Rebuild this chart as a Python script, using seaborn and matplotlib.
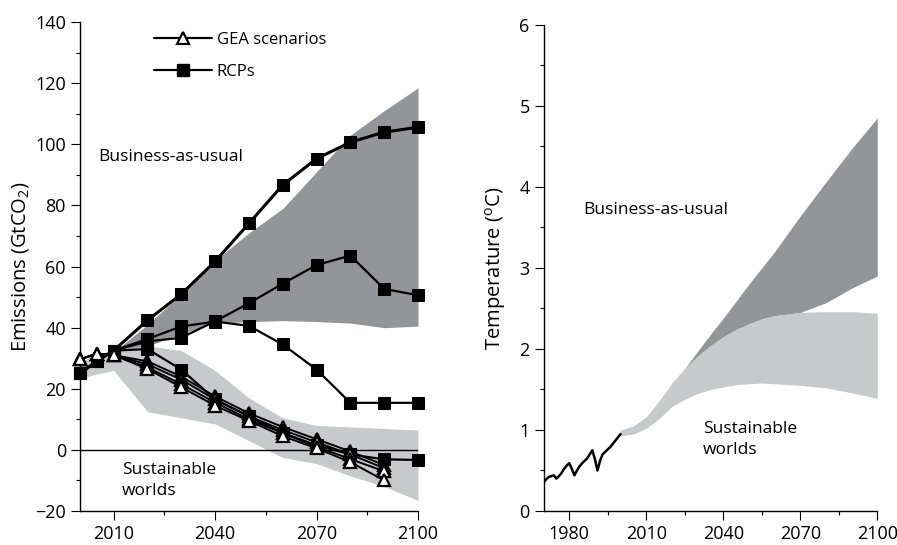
import numpy as np
import pandas as pd
import matplotlib.pyplot as plt
import seaborn as sns
from matplotlib.lines import Line2D
from matplotlib.ticker import MultipleLocator

plt.switch_backend('Agg')

# --- Left panel data: CO2 emissions (GtCO2) ---
rcp_years = [2000, 2005, 2010, 2020, 2030, 2040, 2050, 2060, 2070, 2080, 2090, 2100]
rcp85 = [25.0, 29.0, 32.5, 42.4, 51.0, 61.7, 74.1, 86.7, 95.3, 100.7, 104.0, 105.6]
rcp60 = [25.0, 29.0, 32.5, 35.5, 36.7, 42.1, 48.0, 54.4, 60.5, 63.6, 52.7, 50.6]
rcp45 = [25.0, 29.0, 32.5, 36.3, 40.4, 42.0, 40.6, 34.5, 26.3, 15.4, 15.4, 15.4]
rcp26 = [25.0, 29.0, 32.5, 33.0, 26.3, 16.5, 11.0, 5.5, 1.5, -1.5, -3.1, -3.3]

gea_years = [2000, 2005, 2010, 2020, 2030, 2040, 2050, 2060, 2070, 2080, 2090]
gea_a = [29.6, 31.5, 31.0, 29.0, 24.0, 17.5, 12.0, 7.5, 3.5, -0.5, -5.0]
gea_b = [29.6, 31.5, 31.0, 28.0, 23.0, 16.5, 11.0, 6.5, 2.5, -1.5, -6.0]
gea_c = [29.6, 31.5, 31.0, 27.0, 21.5, 15.5, 10.0, 5.5, 1.0, -3.0, -7.0]
gea_d = [29.6, 31.5, 31.0, 26.5, 20.5, 14.5, 9.5, 4.5, 0.5, -4.0, -10.0]

band_years = [2000, 2005, 2010, 2020, 2030, 2040, 2050, 2060, 2070, 2080, 2090, 2100]
bau_hi = [np.nan, 29.0, 32.0, 41.0, 51.0, 62.0, 71.0, 79.0, 91.0, 103.0, 111.0, 118.5]
bau_lo = [np.nan, 29.0, 31.0, 34.0, 38.0, 41.5, 42.0, 42.3, 42.0, 41.5, 40.0, 40.5]
sus_hi = [29.0, 31.0, 33.0, 34.0, 32.5, 26.0, 17.0, 10.5, 8.0, 7.5, 7.0, 6.5]
sus_lo = [23.5, 24.8, 26.0, 12.5, 10.5, 8.5, 3.0, -2.5, -4.5, -8.5, -12.0, -16.5]

# --- Right panel data: temperature (degC) ---
hist_years = list(range(1970, 2001))
hist_temp = [0.35, 0.39, 0.42, 0.43, 0.44, 0.40, 0.43, 0.47, 0.52, 0.56, 0.59,
             0.52, 0.44, 0.50, 0.55, 0.59, 0.62, 0.65, 0.70, 0.75, 0.64,
             0.50, 0.62, 0.70, 0.73, 0.76, 0.79, 0.83, 0.87, 0.91, 0.95]

temp_years = [2000, 2005, 2010, 2015, 2020, 2025, 2030, 2035, 2040, 2045,
              2050, 2055, 2060, 2070, 2080, 2090, 2100]
sus_t_hi = [1.00, 1.05, 1.16, 1.36, 1.58, 1.76, 1.91, 2.04, 2.15, 2.24,
            2.31, 2.37, 2.41, 2.45, 2.46, 2.46, 2.44]
sus_t_lo = [0.93, 0.95, 1.02, 1.14, 1.29, 1.38, 1.45, 1.50, 1.53, 1.56,
            1.57, 1.58, 1.57, 1.55, 1.52, 1.46, 1.39]
bau_t_hi = [1.00, 1.05, 1.16, 1.36, 1.58, 1.76, 1.97, 2.18, 2.38, 2.59,
            2.80, 3.00, 3.20, 3.64, 4.06, 4.47, 4.85]
bau_t_lo = [1.00, 1.05, 1.16, 1.36, 1.58, 1.76, 1.91, 2.04, 2.15, 2.24,
            2.31, 2.37, 2.41, 2.45, 2.57, 2.75, 2.90]

DARK = '#939598'
LIGHT = '#c8c9cb'

sns.set_theme(style="ticks")
plt.rcParams['font.family'] = ['Open Sans', 'DejaVu Sans']
plt.rcParams['mathtext.default'] = 'regular'
plt.rcParams['text.color'] = 'black'
plt.rcParams['axes.labelcolor'] = 'black'
plt.rcParams['axes.linewidth'] = 1.0
for ax_name in ('xtick', 'ytick'):
    plt.rcParams[f'{ax_name}.major.size'] = 6.5
    plt.rcParams[f'{ax_name}.minor.size'] = 3
    plt.rcParams[f'{ax_name}.major.width'] = 0.8
    plt.rcParams[f'{ax_name}.minor.width'] = 0.8
    plt.rcParams[f'{ax_name}.color'] = 'black'
    plt.rcParams[f'{ax_name}.labelsize'] = 13
    plt.rcParams[f'{ax_name}.labelcolor'] = 'black'

fig = plt.figure(figsize=(8.97, 5.45), dpi=100)
ax1 = fig.add_axes([0.089, 0.0624, 0.377, 0.897])
ax2 = fig.add_axes([0.606, 0.0624, 0.372, 0.892])

# --- Left panel ---
ax1.fill_between(band_years, bau_lo, bau_hi, color=DARK, lw=0, zorder=1)
ax1.fill_between(band_years, sus_lo, sus_hi, color=LIGHT, lw=0, zorder=1)
ax1.axhline(0, color='black', lw=1.0, zorder=2)

for vals, width in [(rcp85, 2.2), (rcp60, 1.6), (rcp45, 1.6), (rcp26, 1.6)]:
    sns.lineplot(x=rcp_years, y=vals, ax=ax1, color='black', lw=width,
                 marker='s', markersize=8, markeredgecolor='black',
                 markerfacecolor='black', zorder=3, clip_on=False)
for vals in [gea_a, gea_b, gea_c, gea_d]:
    sns.lineplot(x=gea_years, y=vals, ax=ax1, color='black', lw=1.4,
                 marker='^', markersize=8.5, markeredgewidth=1.6,
                 markeredgecolor='black', markerfacecolor='white', zorder=4,
                 clip_on=False)

ax1.set_xlim(2000, 2100)
ax1.set_ylim(-20, 140)
ax1.set_xticks([2010, 2040, 2070, 2100])
ax1.set_xticks([2025, 2055, 2085], minor=True)
ax1.yaxis.set_major_locator(MultipleLocator(20))
ax1.yaxis.set_minor_locator(MultipleLocator(10))
ax1.set_ylabel('Emissions (GtCO$_2$)', fontsize=14.5, labelpad=3)
ax1.set_xlabel('')

ax1.text(2005.3, 96, 'Business-as-usual', fontsize=12.5, va='center', ha='left')
ax1.text(2012.4, -10, 'Sustainable\nworlds', fontsize=12.5, va='center',
         ha='left', linespacing=1.45)

handles = [
    Line2D([], [], color='black', lw=1.6, marker='^', markersize=8.5,
           markeredgewidth=1.6, markerfacecolor='white', markeredgecolor='black'),
    Line2D([], [], color='black', lw=1.6, marker='s', markersize=8,
           markerfacecolor='black', markeredgecolor='black'),
]
ax1.legend(handles, ['GEA scenarios', 'RCPs'], loc='upper left',
           bbox_to_anchor=(0.175, 1.01), frameon=False, fontsize=12,
           handlelength=3.5, handletextpad=0.25, labelspacing=0.95,
           numpoints=1)

# --- Right panel ---
ax2.fill_between(temp_years, bau_t_lo, bau_t_hi, color=DARK, lw=0, zorder=1)
ax2.fill_between(temp_years, sus_t_lo, sus_t_hi, color=LIGHT, lw=0, zorder=2)
sns.lineplot(x=hist_years, y=hist_temp, ax=ax2, color='black', lw=1.8, zorder=3)

ax2.set_xlim(1970, 2100)
ax2.set_ylim(0, 6)
ax2.set_xticks([1980, 2010, 2040, 2070, 2100])
ax2.set_xticks([1995, 2025, 2055, 2085], minor=True)
ax2.yaxis.set_major_locator(MultipleLocator(1))
ax2.yaxis.set_minor_locator(MultipleLocator(0.5))
ax2.set_ylabel('Temperature ($^{o}$C)', fontsize=14.5, labelpad=8)
ax2.set_xlabel('')

ax2.text(1985.5, 3.71, 'Business-as-usual', fontsize=12.5, va='center', ha='left')
ax2.text(2032.1, 0.88, 'Sustainable\nworlds', fontsize=12.5, va='center',
         ha='left', linespacing=1.45)

for ax in (ax1, ax2):
    sns.despine(ax=ax)
    ax.spines['left'].set_color('black')
    ax.spines['bottom'].set_color('black')
    ax.tick_params(which='both', direction='out')

fig.savefig('out.png', dpi=100)
plt.close(fig)
